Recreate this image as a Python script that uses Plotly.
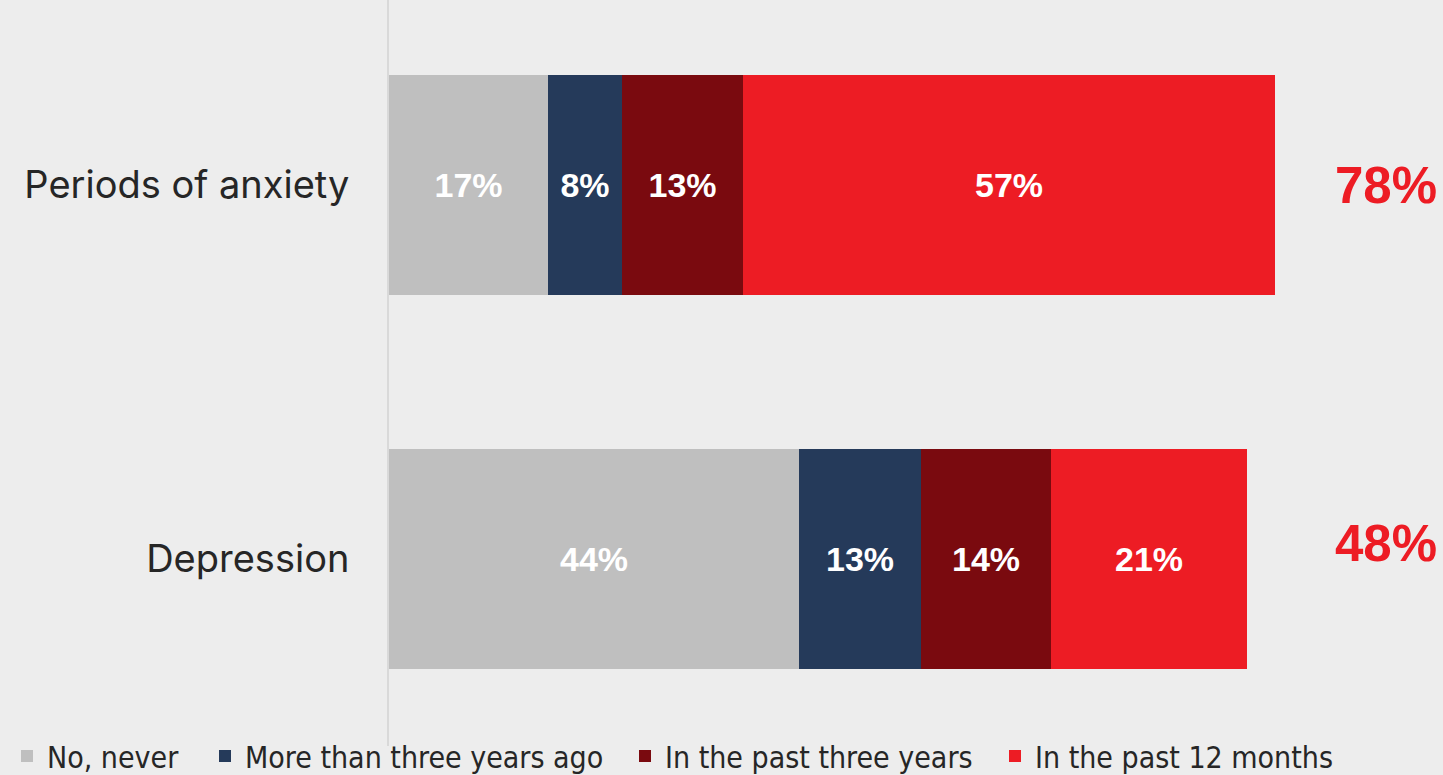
import plotly.graph_objects as go

# Survey items (bottom to top on the y axis)
categories = ["Depression", "Periods of anxiety"]

# Share of respondents per answer, in percent
series_names = ["No, never", "More than three years ago",
                "In the past three years", "In the past 12 months"]
no_never = [44, 17]
more_than_three_years = [13, 8]
past_three_years = [14, 13]
past_12_months = [21, 57]

series_values = [no_never, more_than_three_years, past_three_years, past_12_months]
series_colors = ["#BFBFBF", "#253A5A", "#7A0A0F", "#ED1C24"]

BG = "#EDEDED"
TEXT = "#262626"
W, H = 1443, 775

# Left edge (px) of each legend entry along the bottom row
legend_left_px = [7, 205, 625, 995]
legend_ids = ["legend", "legend2", "legend3", "legend4"]

fig = go.Figure()
for name, vals, color, lid in zip(series_names, series_values, series_colors, legend_ids):
    fig.add_trace(go.Bar(
        y=categories, x=vals, name=name, orientation="h",
        marker=dict(color=color, line=dict(width=0)),
        width=0.588,
        text=[f"{v}%" for v in vals],
        textposition="inside", insidetextanchor="middle",
        textangle=0, constraintext="none",
        textfont=dict(family="Liberation Sans, Arial, sans-serif",
                      size=34, color="white", weight="bold"),
        hoverinfo="skip",
        legend=lid,
    ))

# Totals: anyone who ever experienced it (all answers except "No, never")
totals = [a + b + c for a, b, c in zip(more_than_three_years, past_three_years, past_12_months)]
total_shift = [16, 0]
for cat, tot, ys in zip(categories, totals, total_shift):
    fig.add_annotation(
        x=1, xref="paper", xanchor="right", xshift=-4,
        y=cat, yref="y", yshift=ys,
        text=f"{tot}%", showarrow=False,
        font=dict(family="Liberation Sans, Arial, sans-serif",
                  size=51, color="#ED1C24", weight="bold"),
    )

legend_style = dict(
    orientation="h", xref="container", yref="container",
    xanchor="left", y=1 - 756 / H, yanchor="middle",
    font=dict(family="Liberation Sans Narrow, DejaVu Sans Condensed, Roboto, sans-serif",
              size=30, color=TEXT),
    bgcolor="rgba(0,0,0,0)", borderwidth=0,
)
legends = {lid: dict(legend_style, x=px / W) for lid, px in zip(legend_ids, legend_left_px)}

fig.update_layout(
    barmode="stack",
    width=W, height=H,
    margin=dict(l=389, r=0, t=0, b=29, autoexpand=False),
    paper_bgcolor=BG, plot_bgcolor=BG,
    bargap=0,
    xaxis=dict(range=[0, 113], visible=False, fixedrange=True),
    yaxis=dict(
        range=[-0.5, 1.495],
        showline=True, linecolor="#D9D9D9", linewidth=2,
        showgrid=False, zeroline=False,
        ticks="", ticklabelstandoff=30,
        tickfont=dict(family="Inter, Open Sans, sans-serif", size=38, color=TEXT),
    ),
    showlegend=True,
    **legends,
)

fig.write_html("out.html")
